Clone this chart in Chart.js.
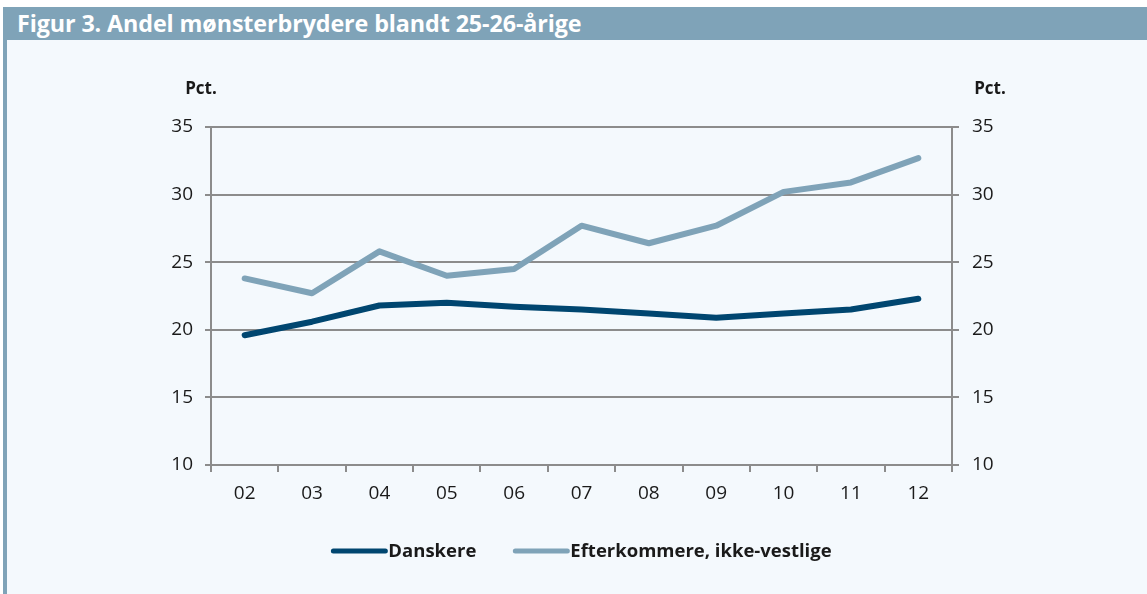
<!DOCTYPE html>
<html>
<head>
<meta charset="utf-8">
<script src="https://cdn.jsdelivr.net/npm/chart.js@4/dist/chart.umd.min.js"></script>
<style>
  html, body { margin: 0; padding: 0; background: #ffffff; }
  body { width: 1147px; height: 594px; position: relative; overflow: hidden; font-family: "Open Sans", sans-serif; }
  #hdr { position: absolute; left: 3px; top: 7px; width: 1144px; height: 33px; background: #7fa3b8;
         color: #ffffff; font: bold 23.3px "Open Sans", sans-serif; line-height: 33px; padding-left: 14px; box-sizing: border-box; white-space: nowrap; letter-spacing: -0.1px; }
  #panel { position: absolute; left: 3px; top: 40px; width: 1144px; height: 554px; background: #f4f9fd;
           border-left: 4px solid #7fa3b8; box-sizing: border-box; }
  #wrap { position: absolute; left: 0; top: 40px; width: 1147px; height: 554px; }
</style>
</head>
<body>
<div id="hdr">Figur 3. Andel mønsterbrydere blandt 25-26-årige</div>
<div id="panel"></div>
<div id="wrap"><canvas id="c" width="1147" height="554"></canvas></div>
<script>
const categories = ['02','03','04','05','06','07','08','09','10','11','12'];
const seriesNames = ['Danskere', 'Efterkommere, ikke-vestlige'];
const danskere = [19.6, 20.6, 21.8, 22.0, 21.7, 21.5, 21.2, 20.9, 21.2, 21.5, 22.3];
const efterkommere = [23.8, 22.7, 25.8, 24.0, 24.5, 27.7, 26.4, 27.7, 30.2, 30.9, 32.7];
const yTicks = [10, 15, 20, 25, 30, 35];
const unitLabel = 'Pct.';

const DARK = '#004670';
const LIGHT = '#7fa3b8';
const GRID = '#8c8c8c';
const TXT = '#1a1a1a';

const extras = {
  id: 'extras',
  afterDraw(chart) {
    const ctx = chart.ctx;
    const ca = chart.chartArea;
    ctx.save();
    // unit labels
    ctx.fillStyle = TXT;
    ctx.font = 'bold 17px "Open Sans", sans-serif';
    ctx.textAlign = 'center';
    ctx.textBaseline = 'middle';
    ctx.fillText(unitLabel, 201, 49);
    ctx.fillText(unitLabel, 990, 49);
    // legend
    const items = chart.data.datasets.map(d => ({ text: d.label, color: d.borderColor }));
    ctx.font = 'bold 18.5px "Open Sans", sans-serif';
    const lineW = 56, gapAfterLine = 1, gapBetween = 37;
    const widths = items.map(it => lineW + gapAfterLine + ctx.measureText(it.text).width);
    const total = widths.reduce((a, b) => a + b, 0) + gapBetween * (items.length - 1);
    let x = (ca.left + ca.right) / 2 - total / 2;
    const y = 511;
    ctx.textAlign = 'left';
    items.forEach((it, i) => {
      ctx.strokeStyle = it.color;
      ctx.lineWidth = 5;
      ctx.lineCap = 'round';
      ctx.beginPath();
      ctx.moveTo(x + 2, y);
      ctx.lineTo(x + lineW - 2, y);
      ctx.stroke();
      ctx.fillStyle = TXT;
      ctx.fillText(it.text, x + lineW + gapAfterLine, y + 1);
      x += widths[i] + gapBetween;
    });
    ctx.restore();
  }
};

const tickFont = { family: '"Open Sans", sans-serif', size: 19 };

new Chart(document.getElementById('c'), {
  type: 'line',
  data: {
    labels: categories,
    datasets: [
      { label: seriesNames[0], data: danskere, borderColor: DARK, backgroundColor: DARK, borderWidth: 6,
        borderCapStyle: 'round', borderJoinStyle: 'round', pointRadius: 0, tension: 0, yAxisID: 'y' },
      { label: seriesNames[1], data: efterkommere, borderColor: LIGHT, backgroundColor: LIGHT, borderWidth: 6,
        borderCapStyle: 'round', borderJoinStyle: 'round', pointRadius: 0, tension: 0, yAxisID: 'y' }
    ]
  },
  options: {
    responsive: false,
    animation: false,
    events: [],
    layout: { padding: { top: 87, left: 0, right: 0, bottom: 0 } },
    plugins: { legend: { display: false }, tooltip: { enabled: false }, title: { display: false } },
    scales: {
      x: {
        type: 'category',
        offset: true,
        grid: { display: true, drawOnChartArea: false, drawTicks: true, tickLength: 7, offset: true, color: GRID, lineWidth: 2 },
        border: { display: true, color: GRID, width: 2 },
        ticks: { color: TXT, font: tickFont, padding: 10, maxRotation: 0, autoSkip: false },
        afterFit(s) { s.height = 129; }
      },
      y: {
        position: 'left',
        min: 10, max: 35,
        afterBuildTicks(s) { s.ticks = yTicks.map(v => ({ value: v })); },
        grid: { display: true, drawOnChartArea: true, drawTicks: true, tickLength: 6, color: GRID, lineWidth: 2 },
        border: { display: true, color: GRID, width: 2 },
        ticks: { color: TXT, font: tickFont, padding: 12 },
        afterFit(s) { s.width = 211; }
      },
      y2: {
        position: 'right',
        min: 10, max: 35,
        afterBuildTicks(s) { s.ticks = yTicks.map(v => ({ value: v })); },
        grid: { display: true, drawOnChartArea: false, drawTicks: true, tickLength: 7, color: GRID, lineWidth: 2 },
        border: { display: true, color: GRID, width: 2 },
        ticks: { color: TXT, font: tickFont, padding: 13 },
        afterFit(s) { s.width = 195; }
      }
    }
  },
  plugins: [extras]
});
</script>
</body>
</html>
